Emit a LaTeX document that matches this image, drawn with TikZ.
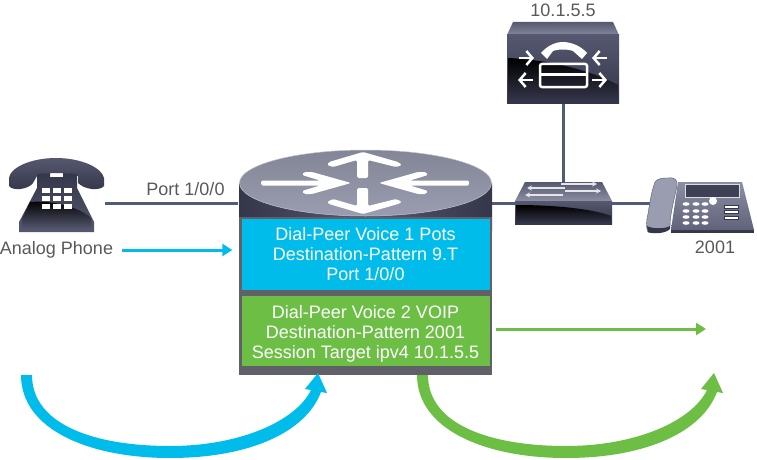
\documentclass[tikz,border=0pt]{standalone}
\usepackage{fontspec}
\setmainfont{Liberation Sans}
\usetikzlibrary{arrows.meta}

\definecolor{ciscoblue}{HTML}{00BCEB}
\definecolor{ciscogreen}{HTML}{6CBE45}
\definecolor{chassisgray}{HTML}{5F6068}
\definecolor{labelgray}{HTML}{58595B}
\definecolor{linkslate}{HTML}{4F5B78}
\definecolor{slatedark}{HTML}{34364A}
\definecolor{slatemid}{HTML}{55586F}
\definecolor{slatelight}{HTML}{9A9DB0}

\tikzset{
  link/.style={linkslate, line width=3pt},
  label/.style={text=labelgray, font=\fontsize{18}{20}\selectfont, inner sep=0pt},
  boxtext/.style={text=white, font=\fontsize{18}{20}\selectfont, align=center, inner sep=0pt, minimum width=248pt},
  flow/.style={line width=3pt, -{Triangle[length=10pt,width=12pt]}},
  whitearrow/.style={fill=white, rounded corners=1.5pt},
  tinyarrow/.style={white, line width=2.5pt, -{Straight Barb[length=6pt,width=14pt,line width=2.5pt]}},
}

% the big swept arrow, #2 is the shift to the right
\newcommand{\sweeparrow}[2]{
  \fill[#1, shift={(#2,0)}] (21,375) .. controls (21,430) and (90,458) .. (170,458)
    .. controls (250,458) and (306,432) .. (321,392) -- (327,393) -- (318,373) -- (305,389) -- (311,390)
    .. controls (296,421) and (240,446) .. (170,446)
    .. controls (95,446) and (32,425) .. (32,375) -- cycle;
}

\begin{document}
\begin{tikzpicture}[x=1pt, y=-1pt]
  \useasboundingbox (0,0) rectangle (757,460);

  % connection points
  \coordinate (analogport) at (105,203);
  \coordinate (routerwest) at (238,203);
  \coordinate (routereast) at (491,203);
  \coordinate (switchwest) at (518,203);
  \coordinate (switcheast) at (610,203);
  \coordinate (ipphonewest) at (655,203);
  \coordinate (switchtop) at (563,182);
  \coordinate (serverbottom) at (563,103);
  \coordinate (voipend) at (706,329);

  % links
  \draw[link] (analogport) -- (routerwest);
  \draw[link] (routereast) -- (switchwest);
  \draw[link] (switcheast) -- (ipphonewest);
  \draw[link] (serverbottom) -- (switchtop);

  % analog phone
  \shade[top color=slatemid, bottom color=slatedark] (9,178) .. controls (10,168) and (30,158) .. (56,158)
    .. controls (82,158) and (102,168) .. (104,178) -- (104,186) .. controls (100,191) and (85,190) .. (78,183)
    -- (78,176) .. controls (65,172) and (47,172) .. (37,176) -- (33,183)
    .. controls (28,190) and (12,191) .. (9,186) -- cycle;
  \shade[top color=slatedark, bottom color=slatemid] (37,174) -- (50,173) -- (50,177) -- (63,177) -- (63,173) -- (77,174)
    -- (77,188) -- (94,222) -- (94,232) -- (19,232) -- (19,222) -- (37,188) -- cycle;
  \shade[top color=black, bottom color=slatemid] (22,229) -- (22,219) -- (30,202) .. controls (55,200) and (80,208) .. (91,218) -- (91,229) -- cycle;
  \foreach \x in {42,53,64}
    \foreach \y in {188,196,204}
      \fill[white] (\x,\y) rectangle ++(8,5);

  % router
  \shade[left color=slatedark, right color=slatedark, middle color=slatemid] (239,183) -- (239,230) -- (492,230) -- (492,183) -- cycle;
  \fill[chassisgray] (239,217) rectangle (492,375);
  \shade[top color=slatelight!85!black, bottom color=slatelight, draw=slatelight!60!white, line width=0.5pt] (365.5,183) ellipse [x radius=126, y radius=33];
  \fill[whitearrow] (357,178) -- (357,160) -- (333,167) -- (327,165) -- (329,162) -- (363,152) -- (398,162) -- (402,165) -- (396,167) -- (368,160) -- (368,178) -- cycle;
  \fill[whitearrow] (357,188) -- (357,206) -- (333,199) -- (327,202) -- (329,204) -- (363,214) -- (398,204) -- (402,202) -- (396,199) -- (368,206) -- (368,188) -- cycle;
  \fill[whitearrow] (261,180.5) -- (320,180.5) -- (302,175) -- (304,172) -- (312,172) -- (351,183) -- (312,194) -- (304,194) -- (302,191) -- (320,185.5) -- (261,185.5) -- cycle;
  \fill[whitearrow] (469,180.5) -- (410,180.5) -- (428,175) -- (426,172) -- (418,172) -- (379,183) -- (418,194) -- (426,194) -- (428,191) -- (410,185.5) -- (469,185.5) -- cycle;

  % config boxes
  \node[boxtext, fill=ciscoblue, minimum height=71pt] (voicebox) at (365.5,254.5) {Dial-Peer Voice 1 Pots\\Destination-Pattern 9.T\\Port 1/0/0};
  \node[boxtext, fill=ciscogreen, minimum height=70pt] (voipbox) at (365.5,331) {\rule{0pt}{18pt}Dial-Peer Voice 2 VOIP\\Destination-Pattern 2001\\Session Target ipv4 10.1.5.5};

  % server
  \shade[top color=slatemid, bottom color=slatelight!70!slatemid] (513,22) -- (613,22) -- (619,35) -- (507,35) -- cycle;
  \shade[top color=slatemid, bottom color=slatedark] (507,35) rectangle (619,103);
  \shade[top color=black, bottom color=slatedark] (508,58) .. controls (550,60) and (590,70) .. (618,85) -- (618,101) -- (508,101) -- cycle;
  \fill[white] (541,53) .. controls (547,46) and (555,42) .. (563,42) .. controls (571,42) and (581,46) .. (587,53)
    -- (582,59) -- (573,51) .. controls (568,49) and (558,49) .. (553,51) -- (547,59) -- cycle;
  \draw[white, line width=2.5pt, rounded corners=2pt] (540,64) rectangle (587,87);
  \draw[white, line width=3pt] (540,74) -- (587,74);
  \foreach \xa/\ya/\xb/\yb in {519/58/534/58, 607/58/592/58, 533/80/518/80, 592/80/607/80}
    \draw[tinyarrow] (\xa,\ya) -- (\xb,\yb);

  % switch
  \shade[top color=slatemid, bottom color=slatelight!80!slatemid] (525,182) -- (602,182) -- (612,201) -- (515,201) -- cycle;
  \shade[top color=slatemid, bottom color=slatedark] (515,201) rectangle (612,224);
  \shade[top color=black, bottom color=slatedark] (516,205) .. controls (550,205) and (590,208) .. (611,216) -- (611,223) -- (516,223) -- cycle;
  \foreach \xa/\ya/\xb/\yb in {561/184/597/184, 565/188/527/188, 565/191/601/191, 563/195/525/195}
    \draw[white!85!slatemid, line width=1.5pt, -{Stealth[length=5pt,width=5pt]}] (\xa,\ya) -- (\xb,\yb);

  % ip phone
  \fill[slatedark] (671,230) -- (754,230) -- (754,233) -- (671,233) -- cycle;
  \shade[top color=slatelight!80!slatemid, bottom color=slatemid!85!slatelight] (678,182) -- (742,182) -- (754,230) -- (671,230) -- cycle;
  \fill[slatedark!70!slatemid, draw=white!80!slatemid, line width=0.5pt] (685,184) rectangle (739,197);
  \fill[slatelight, draw=slatemid, line width=0.4pt] (668,178) .. controls (675,177) and (678,180) .. (677,186)
    .. controls (674,200) and (670,215) .. (670,226) .. controls (666,232) and (655,233) .. (648,232)
    .. controls (646,228) and (646,222) .. (648,214) .. controls (650,200) and (652,190) .. (655,182) .. controls (658,178) and (663,178) .. (668,178) -- cycle;
  \fill[slatedark] (647,226) .. controls (652,229) and (665,229) .. (670,226) -- (670,229) .. controls (665,234) and (652,234) .. (648,232) -- cycle;
  \foreach \x in {686,696,705}
    \foreach \y in {204,211,217,223}
      \fill[white] (\x,\y) ellipse [x radius=3.5, y radius=1.8];
  \fill[white] (713,201) circle (4);
  \foreach \y in {207,212,218}
    \fill[white, draw=slatedark, line width=0.4pt] (724,\y-1.5) rectangle (738,\y+1.5);

  % labels
  \node[label] (portlabel) at (185.5,189) {Port 1/0/0};
  \node[label] (analoglabel) at (56.5,250) {Analog Phone};
  \node[label] (serverlabel) at (563,10) {10.1.5.5};
  \node[label] (ipphonelabel) at (715,247) {2001};

  % flows
  \draw[flow, ciscoblue, shorten <=9pt, shorten >=9pt] (analoglabel.east) -- (voicebox.west |- analoglabel.east);
  \draw[flow, ciscogreen, shorten <=6pt] (voipbox.east |- voipend) -- (voipend);
  \sweeparrow{ciscoblue}{0}
  \sweeparrow{ciscogreen}{396}

\end{tikzpicture}
\end{document}
